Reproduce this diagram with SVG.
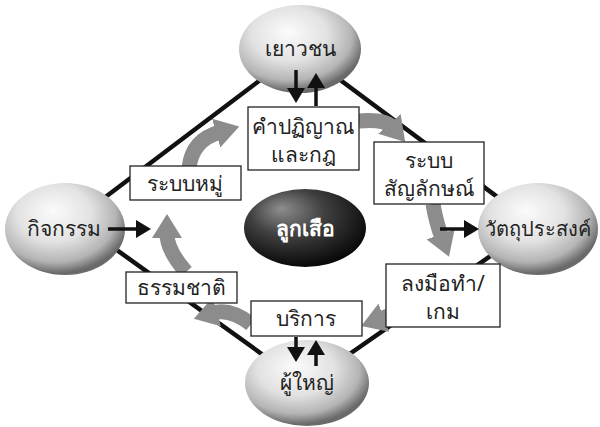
<svg xmlns="http://www.w3.org/2000/svg" width="600" height="427" viewBox="0 0 600 427">
<defs>
<radialGradient id="gLight" cx="0.42" cy="0.36" r="0.62" fx="0.4" fy="0.3">
<stop offset="0" stop-color="#fbfbfb"/>
<stop offset="0.5" stop-color="#e2e2e2"/>
<stop offset="0.82" stop-color="#b4b4b4"/>
<stop offset="1" stop-color="#6a6a6a"/>
</radialGradient>
<radialGradient id="gDark" cx="0.42" cy="0.35" r="0.68" fx="0.3" fy="0.25">
<stop offset="0" stop-color="#8e8e8e"/>
<stop offset="0.45" stop-color="#404040"/>
<stop offset="1" stop-color="#050505"/>
</radialGradient>
<marker id="grayHead" markerUnits="userSpaceOnUse" markerWidth="24" markerHeight="30" refX="4" refY="15" orient="auto" viewBox="0 0 24 30">
<path d="M0,0 L24,15 L0,30 z" fill="#8c8c8c"/>
</marker>
<marker id="blackHead" markerUnits="userSpaceOnUse" markerWidth="15" markerHeight="18" refX="2" refY="9" orient="auto" viewBox="0 0 15 18">
<path d="M0,0 L15,9 L0,18 z" fill="#111"/>
</marker>
</defs>
<style>
.t{font-family:"Noto Sans","DejaVu Sans",sans-serif;font-size:21px;fill:#222;text-anchor:middle}
.box{fill:#fff;stroke:#222;stroke-width:1.3}
.edge{stroke:#111;stroke-width:4.5;fill:none}
.flow{stroke:#8c8c8c;stroke-width:15;fill:none;marker-end:url(#grayHead)}
.ba{stroke:#111;stroke-width:3.5;fill:none;marker-end:url(#blackHead)}
</style>
<rect width="600" height="427" fill="#fff"/>
<g id="connectors">
<path class="edge" d="M75,220 L300,50 L535,225 L305,385 Z"/>
<path class="flow" d="M189,168 Q192,140 220,132"/>
<path class="flow" d="M359,121 Q385,119 392,127"/>
<path class="flow" d="M433,204 Q436,222 442,238"/>
<path class="flow" d="M388,316 L380,319"/>
<path class="flow" d="M251,324 Q230,308 213,313"/>
<path class="flow" d="M186,272 Q167,250 167,234"/>
</g>
<g id="n-youth"><ellipse cx="300" cy="49" rx="61" ry="44" fill="url(#gLight)"/><text class="t" x="300" y="56">เยาวชน</text></g>
<g id="n-activity"><ellipse cx="65" cy="229" rx="60" ry="46" fill="url(#gLight)"/><text class="t" x="64" y="236">กิจกรรม</text></g>
<g id="n-objective"><ellipse cx="538" cy="229" rx="60" ry="46" fill="url(#gLight)"/><text class="t" x="538" y="236" style="font-size:20px">วัตถุประสงค์</text></g>
<g id="n-adult"><ellipse cx="307" cy="383" rx="62" ry="43" fill="url(#gLight)"/><text class="t" x="307" y="390">ผู้ใหญ่</text></g>
<g id="n-scout"><ellipse cx="305" cy="228" rx="61" ry="39" fill="url(#gDark)"/><text class="t" x="305" y="236" style="fill:#fff;font-weight:bold">ลูกเสือ</text></g>
<g id="n-promise"><rect class="box" x="248" y="107" width="111" height="63"/><text class="t" x="303" y="134">คำปฏิญาณ</text><text class="t" x="303" y="162">และกฎ</text></g>
<g id="n-patrol"><rect class="box" x="130" y="166" width="111" height="34"/><text class="t" x="185" y="191">ระบบหมู่</text></g>
<g id="n-symbol"><rect class="box" x="374" y="142" width="110" height="62"/><text class="t" x="429" y="168">ระบบ</text><text class="t" x="429" y="196">สัญลักษณ์</text></g>
<g id="n-doing"><rect class="box" x="386" y="264" width="114" height="63"/><text class="t" x="443" y="291">ลงมือทำ/</text><text class="t" x="443" y="319">เกม</text></g>
<g id="n-nature"><rect class="box" x="126" y="272" width="111" height="31"/><text class="t" x="181" y="295">ธรรมชาติ</text></g>
<g id="n-service"><rect class="box" x="251" y="301" width="111" height="35"/><text class="t" x="306" y="326">บริการ</text></g>
<g id="black-arrows">
<path class="ba" d="M108,229 L138,229"/>
<path class="ba" d="M440,229 L466,229"/>
<path class="ba" d="M296,70 L296,90"/>
<path class="ba" d="M316,106 L316,86"/>
<path class="ba" d="M296,337 L296,349"/>
<path class="ba" d="M316,366 L316,353"/>
</g>
</svg>
